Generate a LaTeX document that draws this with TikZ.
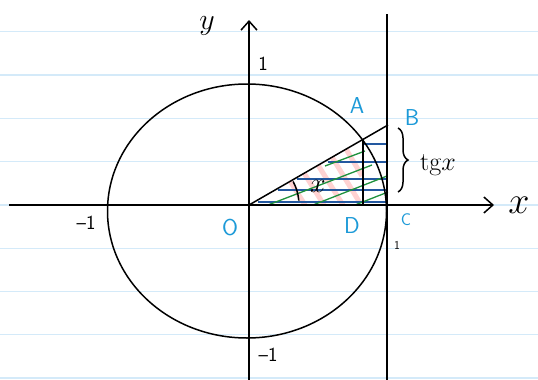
\RequirePackage{fix-cm}
\documentclass[tikz,border=0pt]{standalone}
\usepackage{amsmath, amssymb}
\usepackage{fontspec}
\usepackage{xcolor}
\usepackage{tikz}
\usetikzlibrary{positioning, decorations.pathreplacing, calc, arrows.meta}

\definecolor{paperline}{RGB}{212,234,249}
\definecolor{ptblue}{RGB}{28,154,216}
\definecolor{hatchblue}{RGB}{35,88,160}
\definecolor{hatchgreen}{RGB}{30,145,60}

\begin{document}
\begin{tikzpicture}[
    x=1pt, y=-1pt,
    ink/.style={line width=1.5pt, black},
    axis/.style={ink, -{Straight Barb[length=9pt, width=16pt]}},
    ruled/.style={line width=1.3pt, paperline},
    ptlabel/.style={font=\fontsize{23}{23}\selectfont\sffamily,
                    text=ptblue, inner sep=0pt},
    numlabel/.style={font=\fontsize{20}{20}\selectfont\sffamily, inner sep=0pt},
    hblue/.style={line width=1.4pt, hatchblue},
    hgreen/.style={line width=1.3pt, hatchgreen},
    hpink/.style={line width=5pt, red!80, opacity=0.22},
]
\fill[white] (0,0) rectangle (538,380);
\useasboundingbox (0,0) rectangle (538,380);

% --- Ruled paper ---
\foreach \k in {0,...,8}
    \draw[ruled] (0,{31.7+43.3*\k}) -- (538,{31.7+43.3*\k});

% --- Points ---
\coordinate (O) at (249,205);
\coordinate (B) at (388,125);
\coordinate (C) at (387,205);
\coordinate (A) at ($(O)!0.82!(B)$);
\coordinate (D) at (A |- O);
\coordinate (xl) at (9,205);
\coordinate (xr) at (494,205);
\coordinate (yb) at (249,380);
\coordinate (yt) at (249,20);
\coordinate (tb) at (387,380);
\coordinate (tt) at (387,14);

% --- Hatching ---
\foreach \xa/\ya/\xb/\yb in {290/181/305/205, 304/173/324/205,
        318/165/343/205, 332/157/360/203, 346/149/362/176}
    \draw[hpink] (\xa,\ya) -- (\xb,\yb);
\foreach \yy/\xx in {144/363, 162/328, 179/297, 190/278, 202/258}
    \draw[hblue] (\xx,\yy) -- (387,\yy);
\foreach \xa/\ya/\xb/\yb in {325/166/365/151, 268/205/372/165,
        313/205/387/176, 355/205/388/192}
    \draw[hgreen] (\xa,\ya) -- (\xb,\yb);

% --- Axes, circle, tangent ---
\draw[axis] (xl) -- (xr);
\draw[axis] (yb) -- (yt);
\draw[ink] (247,211) ellipse [x radius=139.5, y radius=127];
\draw[ink] (tb) -- (tt);
\draw[ink] (O) -- (B);
\draw[ink] (A) -- (D);

% angle
\draw[ink] ([shift={(-5:50)}]O) arc[start angle=-5, end angle=-28, radius=50];
\node[font=\fontsize{28}{28}\selectfont, inner sep=0pt] (ang) at (318,186) {$x$};

% brace
\draw[ink, decorate, decoration={brace, amplitude=10pt}] (398,128) -- (398,192);
\node[font=\fontsize{26}{26}\selectfont, inner sep=0pt] (tg) at (438,165) {tg$x$};

% --- Labels ---
\node[font=\fontsize{38}{38}\selectfont, inner sep=0pt] (xlab) at (519,205) {$x$};
\node[font=\fontsize{30}{30}\selectfont, inner sep=0pt] (ylab) at (207,26) {$y$};
\node[numlabel] (oney) at (263,64) {1};
\node[numlabel] (monex) at (86,223) {--1};
\node[numlabel] (money) at (268,355) {--1};
\node[numlabel, font=\fontsize{12}{12}\selectfont\sffamily] (onex) at (397,245) {1};

\node[ptlabel] (lO) at (230,228) {O};
\node[ptlabel] (lD) at (352,226) {D};
\node[ptlabel, font=\fontsize{17}{17}\selectfont\sffamily] (lC) at (406,220) {C};
\node[ptlabel] (lA) at (357,106) {A};
\node[ptlabel] (lB) at (412,118) {B};
\end{tikzpicture}
\end{document}
